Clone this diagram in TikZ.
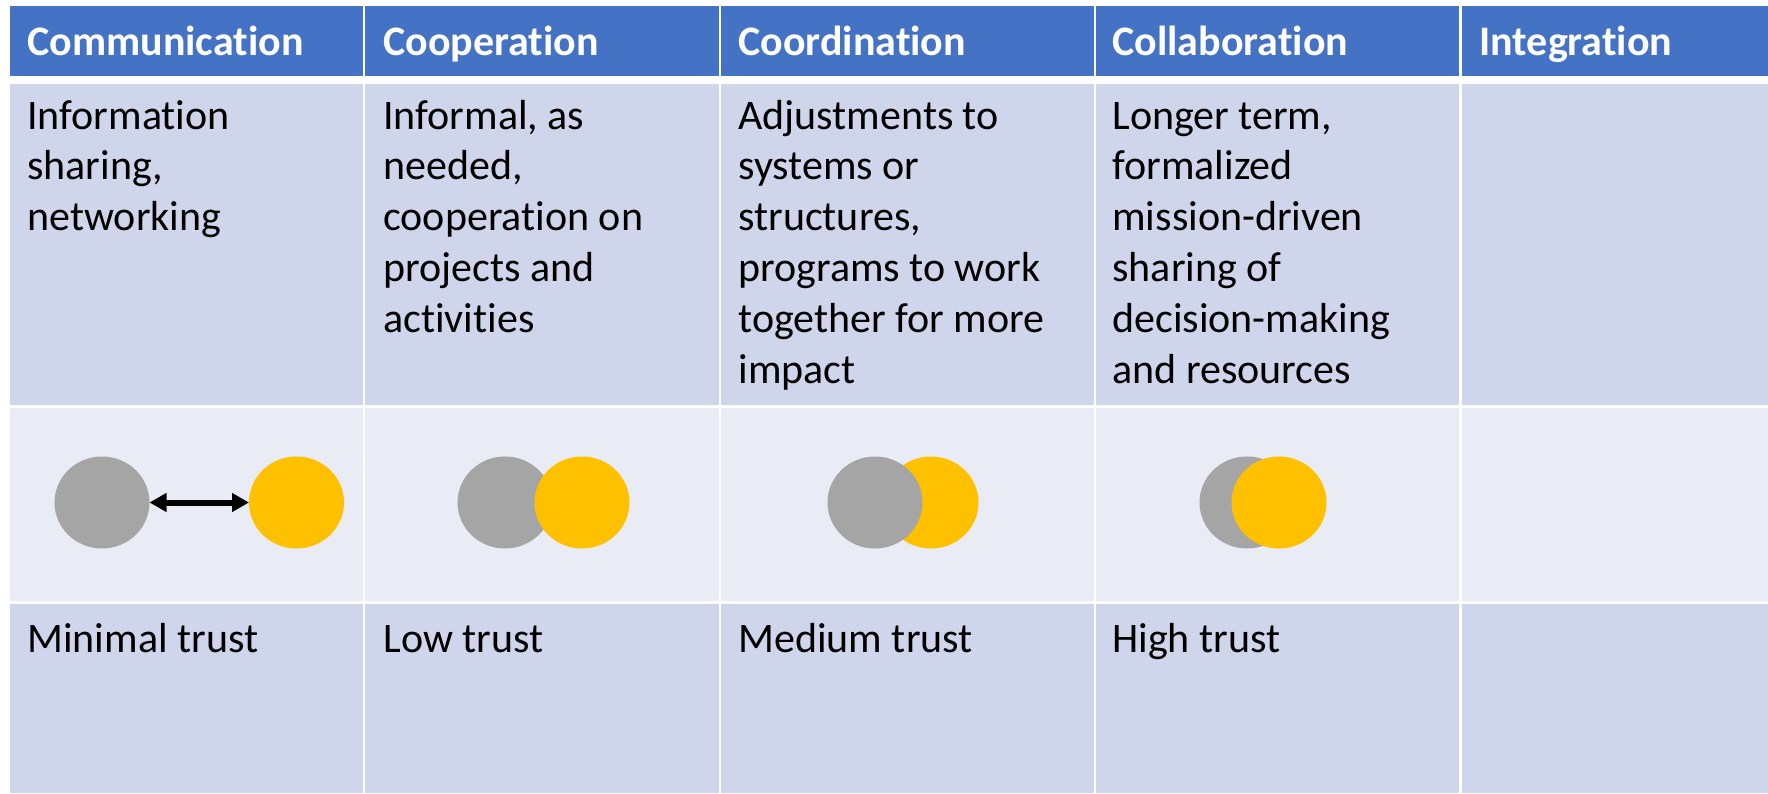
\documentclass[tikz,border=0pt]{standalone}
\usepackage{fontspec}
\setmainfont{Carlito}[Ligatures=NoCommon]
\usetikzlibrary{arrows.meta,shapes.geometric}
\definecolor{hdr}{HTML}{4472C4}
\definecolor{rowA}{HTML}{CFD5EA}
\definecolor{rowB}{HTML}{E9EBF5}
\definecolor{grayc}{HTML}{A5A5A5}
\definecolor{gold}{HTML}{FFC000}
\tikzset{
  bodytext/.style={anchor=base west, align=left, inner sep=0pt, font=\fontsize{21}{25.4}\selectfont, text=black},
  headtext/.style={anchor=base west, inner sep=0pt, font=\fontsize{21}{25.4}\selectfont\bfseries, text=white},
  gc/.style={ellipse, fill=grayc, minimum width=47.5pt, minimum height=46pt, inner sep=0pt, outer sep=0pt},
  yc/.style={ellipse, fill=gold, minimum width=47.5pt, minimum height=46pt, inner sep=0pt, outer sep=0pt},
  link/.style={line width=3pt, {Triangle[length=8.5pt,width=9pt]}-{Triangle[length=8.5pt,width=9pt]}}
}
\begin{document}
\begin{tikzpicture}[x=0.5pt,y=-0.5pt]
\useasboundingbox (0,0) rectangle (1768,793);
\fill[white] (0,0) rectangle (1768,793);
% cells
\foreach \l/\r in {10/363, 365/719, 721/1094, 1096/1459, 1461.5/1768}{
  \fill[hdr]  (\l,6)   rectangle (\r,76);
  \fill[rowA] (\l,84)  rectangle (\r,405);
  \fill[rowB] (\l,408) rectangle (\r,601);
  \fill[rowA] (\l,603.5) rectangle (\r,793);
}
% headers
\node[headtext] (h1) at (27,55)   {Communication};
\node[headtext] (h2) at (383,55) {Cooperation};
\node[headtext] (h3) at (738,55)  {Coordination};
\node[headtext] (h4) at (1112,55) {Collaboration};
\node[headtext] (h5) at (1479,55) {Integration};
% row 1 (anchor = baseline of last line)
\node[bodytext] (d1) at (27,230.6)   {Information\\sharing,\\networking};
\node[bodytext] (d2) at (383,332.2) {Informal, as\\needed,\\cooperation on\\projects and\\activities};
\node[bodytext] (d3) at (738,383)  {Adjustments to\\systems or\\structures,\\programs to work\\together for more\\impact};
\node[bodytext] (d4) at (1112,383) {Longer term,\\formalized\\mission-driven\\sharing of\\decision-making\\and resources};
% row 2
\node[gc] (g1) at (102,502.5) {};
\node[yc] (y1) at (296.5,502.5) {};
\draw[link] (g1) -- (y1);
\node[gc] (g2) at (505,502.5) {};
\node[yc] (y2) at (582,502.5) {};
\node[yc] (y3) at (931,502.5) {};
\node[gc] (g3) at (875,502.5) {};
\node[gc] (g4) at (1247,502.5) {};
\node[yc] (y4) at (1279,502.5) {};
% row 3
\node[bodytext] (t1) at (27,652)    {Minimal trust};
\node[bodytext] (t2) at (383,652) {Low trust};
\node[bodytext] (t3) at (738,652)   {Medium trust};
\node[bodytext] (t4) at (1112,652)  {High trust};
\end{tikzpicture}
\end{document}
